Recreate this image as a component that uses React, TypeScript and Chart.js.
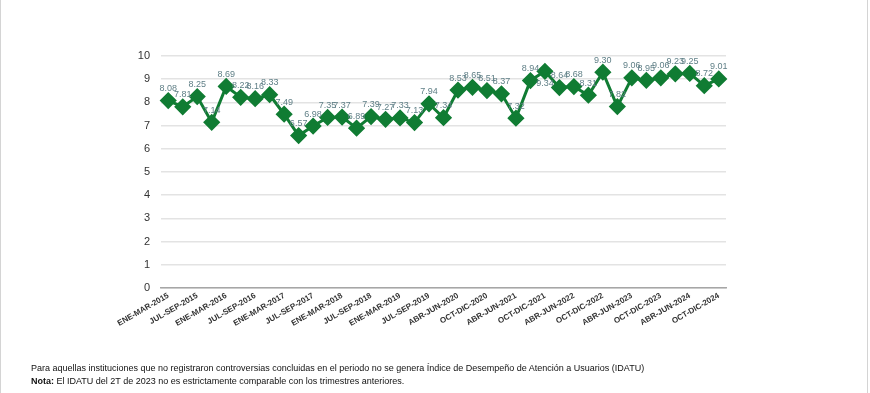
import React, { useEffect, useRef } from "react";
import { Chart, registerables } from "chart.js";

Chart.register(...registerables);

const periods: string[] = [
  "ENE-MAR-2015", "ABR-JUN-2015", "JUL-SEP-2015", "OCT-DIC-2015",
  "ENE-MAR-2016", "ABR-JUN-2016", "JUL-SEP-2016", "OCT-DIC-2016",
  "ENE-MAR-2017", "ABR-JUN-2017", "JUL-SEP-2017", "OCT-DIC-2017",
  "ENE-MAR-2018", "ABR-JUN-2018", "JUL-SEP-2018", "OCT-DIC-2018",
  "ENE-MAR-2019", "ABR-JUN-2019", "JUL-SEP-2019", "OCT-DIC-2019",
  "ABR-JUN-2020", "JUL-SEP-2020", "OCT-DIC-2020",
  "ENE-MAR-2021", "ABR-JUN-2021", "JUL-SEP-2021", "OCT-DIC-2021",
  "ENE-MAR-2022", "ABR-JUN-2022", "JUL-SEP-2022", "OCT-DIC-2022",
  "ENE-MAR-2023", "ABR-JUN-2023", "JUL-SEP-2023", "OCT-DIC-2023",
  "ENE-MAR-2024", "ABR-JUN-2024", "JUL-SEP-2024", "OCT-DIC-2024",
];

const idatu: number[] = [
  8.08, 7.81, 8.25, 7.14, 8.69, 8.22, 8.16, 8.33, 7.49, 6.57,
  6.98, 7.35, 7.37, 6.89, 7.39, 7.27, 7.33, 7.13, 7.94, 7.34,
  8.53, 8.65, 8.51, 8.37, 7.32, 8.94, 9.34, 8.64, 8.68, 8.31,
  9.3, 7.82, 9.06, 8.95, 9.06, 9.23, 9.25, 8.72, 9.01,
];

// indices whose value label sits under the marker
const labelsBelow: number[] = [26];

const footnote1 =
  "Para aquellas instituciones que no registraron controversias concluidas en el periodo no se genera Índice de Desempeño de Atención a Usuarios (IDATU)";
const footnote2Bold = "Nota:";
const footnote2 = " El IDATU del 2T de 2023 no es estrictamente comparable con los trimestres anteriores.";

const valueLabels = {
  id: "valueLabels",
  afterDatasetsDraw(chart: any) {
    const ctx = chart.ctx;
    const meta = chart.getDatasetMeta(0);
    ctx.save();
    ctx.font = "9px 'Liberation Sans', Arial, sans-serif";
    ctx.fillStyle = "#5f7f86";
    ctx.textAlign = "center";
    ctx.textBaseline = "middle";
    meta.data.forEach((pt: any, i: number) => {
      const v = idatu[i];
      const below = labelsBelow.includes(i);
      ctx.fillText(v.toFixed(2), pt.x, below ? pt.y + 12 : pt.y - 12);
    });
    ctx.restore();
  },
};

export default function App() {
  const ref = useRef<HTMLCanvasElement | null>(null);
  useEffect(() => {
    document.body.style.margin = "0";
    if (!ref.current) return;
    const chart = new Chart(ref.current, {
      type: "line",
      data: {
        labels: periods,
        datasets: [
          {
            data: idatu,
            borderColor: "#107c33",
            backgroundColor: "#107c33",
            borderWidth: 3,
            pointStyle: "rectRot",
            pointRadius: 6.5,
            pointHoverRadius: 6.5,
            tension: 0,
          },
        ],
      },
      options: {
        responsive: false,
        animation: false,
        layout: { padding: { left: 0, top: 56, right: 144, bottom: 0 } },
        plugins: { legend: { display: false }, tooltip: { enabled: false } },
        scales: {
          x: {
            offset: true,
            grid: { display: false, drawTicks: false },
            border: { display: true, color: "#a6a6a6", width: 1.5 },
            afterFit(scale: any) {
              scale.height = 393 - 288;
            },
            ticks: {
              autoSkip: false,
              maxRotation: 30,
              minRotation: 30,
              padding: 3,
              color: "#333",
              font: { family: "'Liberation Sans', Arial, sans-serif", size: 8, weight: "bold" },
              callback: (_v: any, i: number) => (i % 2 === 0 ? periods[i] : ""),
            },
          },
          y: {
            min: 0,
            max: 10,
            grid: {
              drawTicks: false,
              color: "#e3e3e3",
              lineWidth: 1.5,
            },
            border: { display: false },
            afterFit(scale: any) {
              scale.width = 161;
            },
            ticks: {
              stepSize: 0.5,
              padding: 11,
              color: "#333",
              font: { family: "'Liberation Sans', Arial, sans-serif", size: 11 },
              callback: (v: any) => (Number(v) % 1 === 0 ? String(v) : ""),
            },
          },
        },
      },
      plugins: [valueLabels],
    });
    return () => chart.destroy();
  }, []);

  return (
    <div style={{ position: "relative", width: 870, height: 393, background: "#fff", overflow: "hidden" }}>
      <canvas ref={ref} width={870} height={393} style={{ position: "absolute", left: 0, top: 0 }} />
      <div style={{ position: "absolute", left: 0, top: 0, width: 1, height: 393, background: "#d4d4d4" }} />
      <div style={{ position: "absolute", left: 867, top: 0, width: 1, height: 393, background: "#d4d4d4" }} />
      <div
        style={{
          position: "absolute",
          left: 31,
          top: 362,
          fontFamily: "'Liberation Sans', Arial, sans-serif",
          fontSize: 9,
          lineHeight: "13px",
          color: "#111",
          whiteSpace: "nowrap",
        }}
      >
        <div>{footnote1}</div>
        <div>
          <b>{footnote2Bold}</b>
          {footnote2}
        </div>
      </div>
    </div>
  );
}
